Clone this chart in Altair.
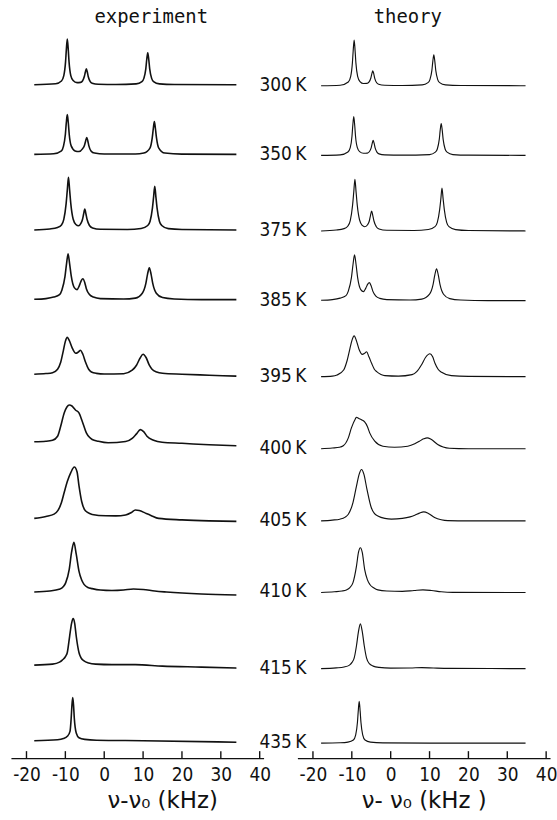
import altair as alt
import pandas as pd

# ---- data -----------------------------------------------------------------
temperatures = ["300 K", "350 K", "375 K", "385 K", "395 K",
                "400 K", "405 K", "410 K", "415 K", "435 K"]

khz_ticks = [-20, -10, 0, 10, 20, 30, 40]

# Measured spectra: (frequency offset in kHz, intensity in a.u.)
exp_300 = [(-18, 0), (-12.5, 1.0), (-11.0, 3.8), (-10.4, 9.2), (-9.95, 23), (-9.75, 35), (-9.5, 46),
           (-9.25, 35), (-9.05, 23), (-8.6, 9.2), (-8.0, 4.2), (-7.0, 2.1), (-6.1, 2.4), (-5.6, 3.8),
           (-5.1, 8.5), (-4.85, 12.8), (-4.6, 16), (-4.35, 12.8), (-4.1, 8), (-3.6, 3.2), (-3.1, 1.6),
           (-1.5, 0.5), (3, 0.3), (8.2, 0.9), (9.7, 3.2), (10.2, 6.4), (10.7, 16), (10.95, 25.6),
           (11.2, 32), (11.45, 25.6), (11.7, 16), (12.2, 6.4), (12.7, 3.2), (14.2, 0.9), (18, 0.2), (34, 0)]
exp_350 = [(-18, 0), (-13, 0.6), (-11.0, 3.5), (-10.5, 8), (-10.0, 20), (-9.75, 32), (-9.5, 40),
           (-9.25, 32), (-9.0, 20), (-8.5, 8.5), (-7.5, 3.5), (-6.5, 2.8), (-5.6, 5.5), (-5.05, 9.5),
           (-4.78, 13.5), (-4.5, 17), (-4.22, 13.5), (-3.95, 8.5), (-3.4, 3.5), (-2.5, 1.3), (0, 0.4),
           (8, 0.4), (10.2, 1.3), (11.8, 6.6), (12.35, 16.5), (12.63, 26), (12.9, 33), (13.17, 26),
           (13.45, 16.5), (14.0, 6.6), (15.6, 1.3), (20, 0.2), (34, 0)]
exp_375 = [(-18, 0), (-14, 1), (-12, 2.5), (-11.0, 5), (-10.4, 10.6), (-9.8, 26.5), (-9.5, 40), (-9.2, 53),
           (-8.9, 40), (-8.6, 26.5), (-8.0, 11), (-7.3, 5.5), (-6.6, 4.2), (-6.0, 6.5), (-5.6, 10.5),
           (-5.3, 16), (-5.0, 21), (-4.7, 16), (-4.4, 10.5), (-3.8, 4.5), (-3.0, 2), (-1, 0.7), (6, 0.5),
           (9.5, 1.5), (11.2, 4.5), (11.8, 8.8), (12.4, 22), (12.7, 33), (13.0, 44), (13.3, 33), (13.6, 22),
           (14.2, 8.8), (14.8, 4.5), (16.5, 1.3), (20, 0.4), (34, 0)]
exp_385 = [(-18, 0.3), (-15, 1), (-13, 2.5), (-11.5, 5), (-10.9, 9.5), (-10.1, 23), (-9.7, 36), (-9.3, 46),
           (-8.9, 36), (-8.5, 24), (-7.7, 12), (-7.0, 10), (-6.4, 14), (-5.9, 19), (-5.5, 21), (-5.0, 17),
           (-4.6, 11), (-3.8, 5), (-2.8, 2.5), (-1, 1), (5, 0.6), (8, 1.5), (9.8, 6.4), (10.7, 16),
           (11.15, 25.6), (11.6, 32), (12.05, 25.6), (12.5, 16), (13.4, 6.4), (15, 2), (18, 0.6), (25, 0), (34, 0)]
exp_395 = [(-18, 0), (-15, 0.6), (-13.3, 1.5), (-12.0, 5), (-11.2, 12), (-10.5, 24), (-10.0, 33), (-9.5, 37),
           (-9.0, 34), (-8.3, 27), (-7.3, 21), (-6.6, 22.5), (-6.1, 24), (-5.5, 20), (-4.8, 12), (-4.0, 5),
           (-3.3, 2.2), (-2, 0.8), (0, 0.2), (5, 0.5), (7.2, 4), (8.3, 9), (9.2, 16), (10.0, 20), (10.8, 16.5),
           (11.6, 9), (12.3, 5), (13.5, 2.2), (15, 1), (20, 0), (27, -1), (34, -2)]
exp_400 = [(-18, 0), (-15, 0.5), (-13.3, 1.5), (-12.0, 5.6), (-11.2, 15.6), (-10.3, 29), (-9.6, 35), (-9.0, 37),
           (-8.3, 36), (-7.4, 32), (-6.5, 29), (-5.6, 20), (-4.6, 9), (-3.8, 4.5), (-3.1, 2.3), (-1.5, 0.5),
           (1, -1), (5.5, 0.3), (7.2, 3.5), (8.3, 8), (9.3, 12.3), (10.2, 10), (11.0, 5.6), (12.7, 1.6),
           (14.9, -0.5), (20, -1.5), (27, -3), (34, -4)]
exp_405 = [(-18, 0), (-15, 2), (-12.9, 4.3), (-11.9, 8), (-11.0, 16), (-10.3, 26), (-9.5, 37), (-8.6, 46),
           (-7.7, 51.6), (-7.0, 47), (-6.5, 33), (-5.8, 17), (-5.1, 9), (-4.3, 6), (-3.1, 4), (0.4, 2.6),
           (3, 2.5), (5.5, 3.5), (7, 6), (8.0, 8.5), (9, 8), (10.6, 5.3), (12, 3), (14.0, 0), (20, -1.5),
           (27, -2.5), (34, -3)]
exp_410 = [(-18, 0), (-14, 1), (-11.6, 2.7), (-10.5, 5.5), (-9.9, 9.4), (-9.0, 22.7), (-8.4, 40), (-7.8, 50),
           (-7.2, 38), (-6.5, 21), (-5.8, 12), (-5.2, 7.7), (-4.2, 4.5), (-3.1, 3.4), (-1, 2), (2, 1.5),
           (5, 2), (7.5, 3), (10, 2.5), (13, 1), (16, 0), (25, -2), (34, -3)]
exp_415 = [(-18, 0), (-13.3, 1), (-11.5, 3), (-10.8, 5), (-9.9, 9), (-9.5, 12.7), (-8.9, 29), (-8.4, 42),
           (-8.0, 46.7), (-7.6, 42), (-7.2, 29), (-6.5, 12.7), (-6.0, 7.5), (-5.2, 4.3), (-4, 2.2),
           (-2.2, 1), (2, 0.5), (8, 0.5), (15, -1), (25, -2), (34, -3)]
exp_435 = [(-18, 0), (-12, 1), (-10.5, 2.2), (-9.5, 4.4), (-8.8, 9.4), (-8.5, 22.7), (-8.3, 36), (-8.1, 43.4),
           (-7.9, 36), (-7.7, 22.7), (-7.2, 7.7), (-6.5, 3), (-5, 1.3), (-2, 0.5), (10, 0), (34, -1.5)]

# Simulated spectra: (frequency offset in kHz, intensity in a.u.)
thy_300 = [(-17.9, 0), (-13, 0.5), (-10.9, 3.8), (-10.3, 9.2), (-9.85, 23), (-9.65, 35), (-9.4, 46),
           (-9.15, 35), (-8.95, 23), (-8.5, 9.5), (-7.9, 4.2), (-7.0, 2.2), (-6.1, 2.3), (-5.6, 3.6),
           (-5.1, 7.8), (-4.85, 12), (-4.6, 15), (-4.35, 12), (-4.1, 7.5), (-3.6, 3), (-3.1, 1.5),
           (-1.5, 0.5), (3, 0.2), (8.1, 0.8), (9.6, 3.1), (10.1, 6.2), (10.6, 15.5), (10.85, 24.8),
           (11.1, 31), (11.35, 24.8), (11.6, 15.5), (12.1, 6.2), (12.6, 3.1), (14.1, 0.8), (18, 0.2), (34.7, 0)]
thy_350 = [(-17.9, 0), (-13, 0.5), (-11.0, 3.4), (-10.4, 7.8), (-9.95, 19.5), (-9.75, 30), (-9.5, 39),
           (-9.25, 30), (-9.05, 19.5), (-8.6, 8), (-8.0, 3.8), (-7.0, 2.1), (-6.0, 2.3), (-5.5, 3.6),
           (-5.0, 7.8), (-4.75, 12), (-4.5, 15), (-4.25, 12), (-4.0, 7.5), (-3.5, 3), (-3.0, 1.5),
           (-1.5, 0.5), (3, 0.2), (10.0, 0.8), (11.5, 3.2), (12.0, 6.4), (12.5, 16), (12.75, 25.6),
           (13.0, 32), (13.25, 25.6), (13.5, 16), (14.0, 6.4), (14.5, 3.2), (16, 0.8), (20, 0.2), (34.7, 0)]
thy_375 = [(-17.9, 0), (-14, 0.9), (-12, 2.3), (-11.0, 5), (-10.4, 10.4), (-9.8, 26), (-9.5, 39), (-9.2, 52),
           (-8.9, 39), (-8.6, 26), (-8.0, 11), (-7.3, 5.5), (-6.7, 4.2), (-6.0, 6), (-5.5, 10), (-5.2, 15.5),
           (-4.9, 20), (-4.6, 15.5), (-4.3, 10), (-3.7, 4.3), (-3.0, 2), (-1, 0.7), (6, 0.5), (9.7, 1.5),
           (11.4, 4.3), (12.0, 8.6), (12.6, 21.5), (12.9, 32), (13.2, 43), (13.5, 32), (13.8, 21.5),
           (14.4, 8.6), (15.0, 4.3), (16.7, 1.3), (20, 0.4), (34.7, 0)]
thy_385 = [(-17.9, 0.3), (-15, 1), (-13, 2.5), (-11.5, 5), (-10.9, 9.5), (-10.1, 23), (-9.7, 36), (-9.3, 46),
           (-8.9, 36), (-8.5, 23), (-7.7, 11), (-7.0, 9), (-6.4, 12.5), (-5.9, 16.5), (-5.5, 18), (-5.0, 14.5),
           (-4.6, 9.5), (-3.8, 4.5), (-2.8, 2.2), (-1, 1), (5, 0.6), (8, 1.5), (10.0, 6.4), (10.9, 16),
           (11.35, 25.6), (11.8, 32), (12.25, 25.6), (12.7, 16), (13.6, 6.4), (15.2, 2), (18, 0.6), (25, 0),
           (34.7, 0)]
thy_395 = [(-17.9, 0), (-15, 0.5), (-13.8, 1.7), (-12.1, 6.7), (-11.3, 15), (-10.5, 28), (-10.0, 36),
           (-9.4, 41), (-8.8, 36), (-8.1, 27), (-7.3, 22.4), (-6.7, 23.5), (-6.2, 25), (-5.6, 20),
           (-4.9, 13.4), (-4.2, 7.5), (-3.6, 5), (-2.5, 2.2), (-1.5, 1), (2, 0.5), (5.5, 2), (6.7, 5),
           (7.9, 11.7), (9.0, 19.5), (10.1, 23), (10.8, 20), (11.4, 13.4), (12.2, 7.5), (13.1, 4.4),
           (15.6, 1), (20, 0.3), (34.7, 0)]
thy_400 = [(-17.9, 0), (-15, 0.8), (-13.2, 1.5), (-12.2, 3), (-10.9, 11), (-10.1, 21), (-9.1, 30),
           (-8.8, 31.7), (-8.2, 30.5), (-7.4, 29), (-6.7, 27), (-6.0, 22.5), (-5.4, 16), (-4.1, 7.6),
           (-2.0, 2.6), (1.0, 1.5), (4.4, 2.6), (6.2, 5), (7.4, 7.6), (8.5, 10), (9.4, 11), (10.4, 9.5),
           (12.1, 4.3), (13.5, 1.8), (15.1, 0.5), (20, 0), (34.7, 0)]
thy_405 = [(-17.9, 0), (-15, 0.8), (-13.1, 1.7), (-11.7, 3.8), (-10.9, 6.7), (-9.7, 18.4), (-8.8, 35),
           (-8.1, 47), (-7.5, 51.7), (-6.9, 47), (-6.1, 31.7), (-5.0, 13.4), (-4.2, 7.5), (-3.3, 5),
           (-1.5, 2.5), (0.2, 1.8), (3, 2.5), (5, 4), (6.2, 5.7), (7.4, 7.8), (8.5, 9), (9.7, 7.5),
           (11.3, 3.4), (13, 1.2), (14.7, 0.3), (20, 0), (34.7, 0)]
thy_410 = [(-17.9, 0), (-14.5, 0.8), (-12.5, 1.5), (-11.4, 2.6), (-10.5, 5), (-9.7, 10), (-8.8, 26.6),
           (-8.3, 40), (-7.8, 45), (-7.3, 40), (-6.7, 23.3), (-6.0, 13), (-5.4, 8.3), (-4.3, 4.5),
           (-3.3, 2.6), (-1, 1.5), (3, 1.2), (6, 2), (8.3, 2.6), (10.5, 2), (13, 0.8), (16, 0.2), (34.7, 0)]
thy_415 = [(-17.9, 0), (-14, 0.7), (-12, 1.6), (-10.6, 3.5), (-9.9, 6.5), (-9.4, 10.5), (-8.8, 23),
           (-8.3, 37), (-7.8, 45), (-7.3, 37), (-6.8, 23), (-6.2, 10.5), (-5.5, 5), (-4.5, 2.5), (-3, 1.2),
           (0, 0.5), (5, 0.6), (8, 1), (11, 0.6), (15, 0.2), (34.7, 0)]
thy_435 = [(-17.9, 0), (-13, 0.4), (-11, 1.1), (-9.6, 3.2), (-9.0, 8.4), (-8.55, 21), (-8.35, 32), (-8.1, 42),
           (-7.85, 32), (-7.65, 21), (-7.2, 8.4), (-6.6, 3.2), (-5.2, 1.1), (-2, 0.3), (10, 0), (34.7, 0)]

experiment = [exp_300, exp_350, exp_375, exp_385, exp_395,
              exp_400, exp_405, exp_410, exp_415, exp_435]
theory = [thy_300, thy_350, thy_375, thy_385, thy_395,
          thy_400, thy_405, thy_410, thy_415, thy_435]

# ---- layout ---------------------------------------------------------------
PLOT_W = 254          # each panel's plot width (px)
PLOT_H = 760          # plot height down to the frequency axis (px)
GAIN = 1.0            # px per intensity unit
TICK_LEN = 7
exp_baseline = [83, 153, 229, 299, 374, 442, 519, 593, 666.5, 742.5]
thy_baseline = [84, 154, 230, 300, 376.5, 449, 521.5, 593.5, 670, 745]

NUM_FONT = "DejaVu Sans Condensed, Liberation Sans Narrow, DejaVu Sans"
TITLE_FONT = "DejaVu Sans"
HEAD_FONT = "DejaVu Sans Mono"
INK = "#111111"


def stack(spectra, baselines):
    rows = []
    for temp, pts, base in zip(temperatures, spectra, baselines):
        for k, v in pts:
            rows.append({"temp": temp, "khz": k, "y": base - GAIN * v})
    return pd.DataFrame(rows)


exp_df = stack(experiment, exp_baseline)
thy_df = stack(theory, thy_baseline)
label_df = pd.DataFrame({"temp": [t.replace(" ", "\u2009") for t in temperatures],
                         "y": [b - 1 for b in thy_baseline]})
tick_df = pd.DataFrame({"khz": khz_ticks})

x_scale = alt.Scale(domain=[-24, 41], nice=False, zero=False)
y_scale = alt.Scale(domain=[0, PLOT_H], reverse=True, nice=False, zero=False)


def panel(df, heading, heading_x, axis_title, title_x, stroke_w):
    axis = alt.Axis(values=khz_ticks, ticks=False, grid=False, domain=True,
                    domainColor=INK, domainWidth=1.4, labelColor=INK,
                    labelFont=NUM_FONT, labelFontSize=19, labelPadding=8,
                    labelFlush=False, labelOverlap=False,
                    labelExpr="'' + datum.value",
                    title=axis_title, titleFont=TITLE_FONT, titleFontSize=23,
                    titleFontWeight="normal", titleColor=INK, titlePadding=5,
                    titleX=title_x, titleAnchor="start", titleAlign="center")
    lines = alt.Chart(df).mark_line(
        color=INK, strokeWidth=stroke_w, interpolate="monotone"
    ).encode(
        x=alt.X("khz:Q", scale=x_scale, axis=axis),
        y=alt.Y("y:Q", scale=y_scale, axis=None),
        detail="temp:N",
    )
    ticks = alt.Chart(tick_df).mark_rule(color=INK, strokeWidth=1.4).encode(
        x=alt.X("khz:Q", scale=x_scale, axis=axis),
        y=alt.value(PLOT_H - TICK_LEN),
        y2=alt.value(PLOT_H),
    )
    head = alt.Chart().mark_text(
        font=HEAD_FONT, fontSize=19, color=INK, baseline="middle"
    ).encode(x=alt.datum(heading_x), y=alt.value(15), text=alt.value(heading))
    return lines, ticks, head


l_lines, l_ticks, l_head = panel(exp_df, "experiment", 12.1, "ν-ν₀ (kHz)", 152, 1.6)
r_lines, r_ticks, r_head = panel(thy_df, "theory", 4.4, "ν- ν₀ (kHz )", 127, 1.15)

labels = alt.Chart(label_df).mark_text(
    font=NUM_FONT, fontSize=19, color=INK, align="right", baseline="middle"
).encode(
    x=alt.datum(-21.7),
    y=alt.Y("y:Q", scale=y_scale, axis=None),
    text="temp:N",
)

left = alt.layer(l_lines, l_ticks, l_head).properties(width=PLOT_W, height=PLOT_H)
right = alt.layer(r_lines, r_ticks, r_head, labels).properties(width=PLOT_W, height=PLOT_H)

chart = alt.hconcat(left, right, spacing=34, bounds="flush").properties(
    padding={"left": 11, "top": 0, "right": 0, "bottom": 0},
    background="white",
).configure_view(strokeWidth=0, stroke="transparent")

chart.save("out.html", embed_options={"renderer": "svg", "actions": False})
